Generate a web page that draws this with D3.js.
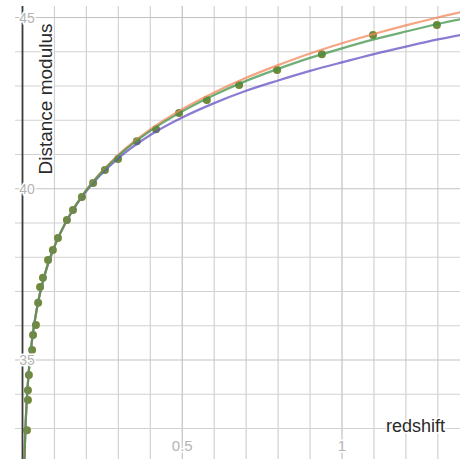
<!DOCTYPE html>
<html>
<head>
<meta charset="utf-8">
<script src="https://cdn.jsdelivr.net/npm/d3@7"></script>
<style>
  html, body { margin: 0; padding: 0; background: #fff; }
  svg { display: block; font-family: 'Liberation Sans', Arial, sans-serif; }
</style>
</head>
<body>
<div id="chart"></div>
<script>
// redshift samples used for the three model curves
const curveZ = [0.005, 0.007, 0.01, 0.015, 0.02, 0.03, 0.04, 0.05, 0.075, 0.1, 0.15, 0.2,
  0.3, 0.4, 0.5, 0.6, 0.7, 0.8, 0.9, 1.0, 1.1, 1.2, 1.3, 1.4];
const greenMu = [31.66, 32.40, 33.18, 34.06, 34.70, 35.59, 36.23, 36.74, 37.66, 38.32, 39.27, 39.96,
  40.96, 41.69, 42.26, 42.74, 43.15, 43.50, 43.82, 44.10, 44.36, 44.59, 44.81, 45.00];
const orangeMu = [31.66, 32.40, 33.18, 34.06, 34.70, 35.59, 36.23, 36.74, 37.66, 38.32, 39.27, 39.97,
  40.99, 41.73, 42.32, 42.81, 43.24, 43.61, 43.95, 44.25, 44.52, 44.77, 45.00, 45.21];
const blueMu = [31.66, 32.40, 33.18, 34.06, 34.70, 35.59, 36.23, 36.74, 37.66, 38.31, 39.25, 39.93,
  40.89, 41.57, 42.08, 42.50, 42.86, 43.16, 43.44, 43.69, 43.93, 44.15, 44.36, 44.54];

// supernova points (redshift, distance modulus)
const dotZ = [1.297, 1.097, 0.937, 0.797, 0.678, 0.577, 0.490, 0.418, 0.358, 0.299, 0.258, 0.221,
  0.186, 0.158, 0.139, 0.111, 0.095, 0.080, 0.064, 0.055, 0.049, 0.042, 0.033, 0.030, 0.023,
  0.020, 0.017, 0.017, 0.014];
const dotMu = [44.78, 44.49, 43.93, 43.47, 43.03, 42.59, 42.21, 41.74, 41.39, 40.87, 40.55, 40.17,
  39.76, 39.38, 39.09, 38.56, 38.21, 37.92, 37.40, 37.13, 36.67, 36.02, 35.73, 35.29, 34.94,
  34.56, 34.12, 33.83, 32.95];

const xTickLabels = [0.5, 1];
const yTickLabels = [35, 40, 45];

const width = 460;
const height = 459;

const svg = d3.select('#chart').append('svg')
  .attr('width', width)
  .attr('height', height);

const x = d3.scaleLinear().domain([0, 1]).range([22.5, 342]);
const y = d3.scaleLinear().domain([45, 35]).range([17.5, 360]);

/**
 * Draws the light grid (0.1 in redshift, 1 in modulus).
 */
function drawGrid() {
  const g = svg.append('g').attr('class', 'grid');
  const xMin = x.invert(0);
  const xMax = x.invert(width);
  const yMin = y.invert(height);
  const yMax = y.invert(0);

  const vLines = d3.range(Math.ceil(xMin * 10), Math.floor(xMax * 10) + 1).map((d) => d / 10);
  g.selectAll('line.v')
    .data(vLines.filter((d) => d !== 0))
    .enter()
    .append('line')
    .attr('class', 'v')
    .attr('x1', (d) => x(d)).attr('x2', (d) => x(d))
    .attr('y1', 6).attr('y2', height)
    .attr('stroke', (d) => (Math.abs(d * 2 - Math.round(d * 2)) < 1e-6 ? '#c2c2c2' : '#d2d2d2'))
    .attr('stroke-width', 1.2);

  const hLines = d3.range(Math.ceil(yMin), Math.floor(yMax) + 1);
  g.selectAll('line.h')
    .data(hLines)
    .enter()
    .append('line')
    .attr('class', 'h')
    .attr('x1', 15).attr('x2', width)
    .attr('y1', (d) => y(d)).attr('y2', (d) => y(d))
    .attr('stroke', (d) => (d % 5 === 0 ? '#c2c2c2' : '#d2d2d2'))
    .attr('stroke-width', 1.2);

  svg.append('line')
    .attr('x1', x(0)).attr('x2', x(0))
    .attr('y1', 6).attr('y2', height)
    .attr('stroke', '#3a3a3a')
    .attr('stroke-width', 1.8);
}

/**
 * Draws the faint tick numbers and the two axis titles.
 */
function drawLabels() {
  const g = svg.append('g').attr('class', 'labels');
  g.selectAll('text.xt')
    .data(xTickLabels)
    .enter()
    .append('text')
    .attr('class', 'xt')
    .attr('x', (d) => x(d))
    .attr('y', 451)
    .attr('text-anchor', 'middle')
    .attr('font-size', 15)
    .attr('fill', '#b4b4b4')
    .attr('stroke', '#fff')
    .attr('stroke-width', 3)
    .attr('paint-order', 'stroke')
    .text((d) => d);

  g.selectAll('text.yt')
    .data(yTickLabels)
    .enter()
    .append('text')
    .attr('class', 'yt')
    .attr('x', 27)
    .attr('y', (d) => y(d))
    .attr('dy', '0.36em')
    .attr('text-anchor', 'middle')
    .attr('font-size', 14)
    .attr('fill', '#b4b4b4')
    .attr('stroke', '#fff')
    .attr('stroke-width', 3)
    .attr('paint-order', 'stroke')
    .text((d) => d);

  g.append('text')
    .attr('x', 386)
    .attr('y', 432)
    .attr('font-size', 18)
    .attr('fill', '#2a2a2a')
    .attr('stroke', '#fff')
    .attr('stroke-width', 3)
    .attr('paint-order', 'stroke')
    .text('redshift');

  g.append('text')
    .attr('transform', 'translate(52,99) rotate(-90)')
    .attr('text-anchor', 'middle')
    .attr('font-size', 19)
    .attr('fill', '#2a2a2a')
    .attr('stroke', '#fff')
    .attr('stroke-width', 3)
    .attr('paint-order', 'stroke')
    .text('Distance modulus');
}

/**
 * Draws the data points then the three model curves over them.
 */
function drawSeries() {
  svg.append('clipPath').attr('id', 'clip')
    .append('rect').attr('x', 0).attr('y', 0).attr('width', width).attr('height', height);

  const g = svg.append('g').attr('clip-path', 'url(#clip)');

  g.selectAll('circle')
    .data(dotZ.map((z, i) => ({ z: z, mu: dotMu[i] })))
    .enter()
    .append('circle')
    .attr('cx', (d) => x(d.z))
    .attr('cy', (d) => y(d.mu))
    .attr('r', 4)
    .attr('fill', '#71893a');

  const line = d3.line()
    .x((d) => x(d[0]))
    .y((d) => y(d[1]))
    .curve(d3.curveMonotoneX);

  const series = [
    { values: blueMu, color: '#6450c4' },
    { values: orangeMu, color: '#f2875a' },
    { values: greenMu, color: '#3f944a' },
  ];

  series.forEach((s) => {
    g.append('path')
      .datum(curveZ.map((z, i) => [z, s.values[i]]))
      .attr('fill', 'none')
      .attr('stroke', s.color)
      .attr('stroke-width', 2.2)
      .attr('stroke-opacity', 0.75)
      .attr('d', line);
  });
}

drawGrid();
drawSeries();
drawLabels();
</script>
</body>
</html>
